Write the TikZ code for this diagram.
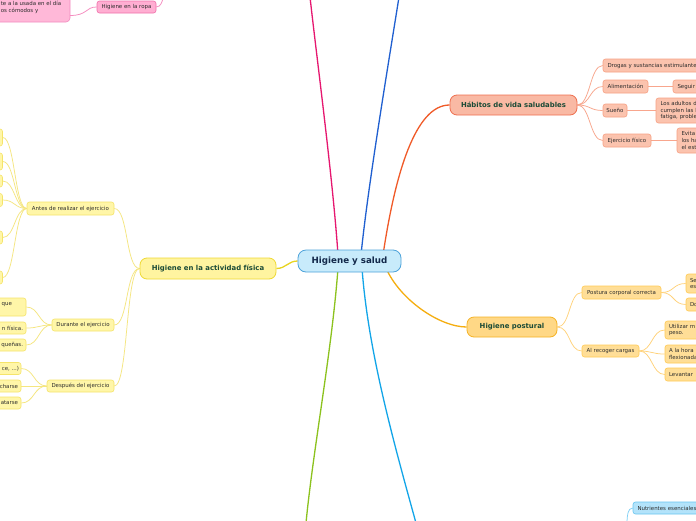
\documentclass[tikz,border=0pt]{standalone}
\usepackage{fontspec}
\setmainfont{DejaVu Sans}
\usetikzlibrary{backgrounds}
\definecolor{txt}{HTML}{2C2C2C}
\definecolor{maintxt}{HTML}{1A4A36}
\definecolor{centtxt}{HTML}{13294B}
\definecolor{centF}{HTML}{C8EBFB}
\definecolor{centD}{HTML}{4DA3DA}
\definecolor{pinkL}{HTML}{E6176F}
\definecolor{blueL}{HTML}{1F5FD0}
\definecolor{orangeL}{HTML}{F05A28}
\definecolor{yellowL}{HTML}{E8D420}
\definecolor{postL}{HTML}{F5AE10}
\definecolor{greenL}{HTML}{8CC21E}
\definecolor{lblueL}{HTML}{12A5E8}
\definecolor{habF}{HTML}{F9B9A4}
\definecolor{habD}{HTML}{EE6F4F}
\definecolor{habsF}{HTML}{FBC3AE}
\definecolor{habsD}{HTML}{F7A184}
\definecolor{habC}{HTML}{F8A68D}
\definecolor{postF}{HTML}{FFD886}
\definecolor{postD}{HTML}{F5B325}
\definecolor{postsF}{HTML}{FFDE97}
\definecolor{postsD}{HTML}{FFCB55}
\definecolor{postC}{HTML}{FFD27A}
\definecolor{actF}{HTML}{FFF4A0}
\definecolor{actD}{HTML}{EFD934}
\definecolor{actsF}{HTML}{FFF6A8}
\definecolor{actsD}{HTML}{F5E46A}
\definecolor{actC}{HTML}{F5E680}
\definecolor{ropaF}{HTML}{FFAED2}
\definecolor{ropaD}{HTML}{F070AA}
\definecolor{pinkbF}{HTML}{FFB8D8}
\definecolor{pinkbD}{HTML}{F28BBF}
\definecolor{pinkC}{HTML}{F58CBF}
\definecolor{nutF}{HTML}{B3E3FA}
\definecolor{nutD}{HTML}{69C6F0}
\definecolor{nutC}{HTML}{80D0F5}
\tikzset{
  small/.style={font=\fontsize{5.45}{6.6}\selectfont, text=txt, inner sep=0pt,
    rounded corners=2.5pt, line width=0.6pt},
  mainbox/.style={font=\bfseries\fontsize{6.9}{8}\selectfont, text=maintxt,
    inner sep=0pt, rounded corners=7pt, line width=0.8pt},
  hs/.style={small, fill=habsF, draw=habsD},
  ps/.style={small, fill=postsF, draw=postsD},
  as/.style={small, fill=actsF, draw=actsD},
  lft/.style={align=left, text width=#1},
  rgt/.style={align=right, text width=#1},
  mainln/.style={line width=1.3pt},
  subln/.style={line width=0.75pt}
}
\begin{document}
\begin{tikzpicture}[x=1pt,y=-1pt]
\useasboundingbox (0,0) rectangle (696,520);

% central
\node[font=\bfseries\fontsize{8.7}{10}\selectfont, text=centtxt, inner sep=0pt,
  rounded corners=8pt, line width=0.8pt, fill=centF, draw=centD,
  minimum width=103, minimum height=22] (central) at (349.5,261) {Higiene y salud};

% Habitos
\node[mainbox, fill=habF, draw=habD, minimum width=127, minimum height=20] (hab) at (513.5,105) {Hábitos de vida saludables};
\node[hs, minimum width=117, minimum height=13, lft=108] (drog) at (661.5,65.5) {Drogas y sustancias estimulantes};
\node[hs, minimum width=45, minimum height=13] (alim) at (625.5,86.5) {Alimentación};
\node[hs, minimum width=47, minimum height=13, lft=38] (seg) at (696.5,86.5) {Seguir};
\node[hs, minimum width=24, minimum height=13] (sueno) at (615,110.5) {Sueño};
\node[hs, minimum width=74, minimum height=25, lft=65] (adult) at (693,110.5) {Los adultos d\\cumplen las l\\fatiga, proble};
\node[hs, minimum width=48, minimum height=13] (ejer) at (627,140.5) {Ejercicio físico};
\node[hs, minimum width=53, minimum height=25, lft=44] (evita) at (703.5,140.5) {Evita\\los ha\\el est};

% Higiene postural
\node[mainbox, fill=postF, draw=postD, minimum width=90, minimum height=20] (post) at (512,327) {Higiene postural};
\node[ps, minimum width=79, minimum height=13] (postura) at (621.5,292.5) {Postura corporal correcta};
\node[ps, minimum width=44, minimum height=19, lft=36] (se) at (708,283.5) {Se\\es};
\node[ps, minimum width=44, minimum height=13, lft=36] (do) at (708,304.5) {Do};
\node[ps, minimum width=57, minimum height=12] (recoger) at (610.5,351) {Al recoger cargas};
\node[ps, minimum width=65, minimum height=18, lft=57] (util) at (697.5,330) {Utilizar m\\peso.};
\node[ps, minimum width=65, minimum height=18, lft=57] (ala) at (697.5,354) {A la hora\\flexionada};
\node[ps, minimum width=65, minimum height=13, lft=57] (lev) at (697.5,374.5) {Levantar};

% Actividad fisica
\node[mainbox, fill=actF, draw=actD, minimum width=136, minimum height=21] (act) at (208,268.5) {Higiene en la actividad física};
\node[as, minimum width=87, minimum height=13] (antes) at (70.5,208.5) {Antes de realizar el ejercicio};
\node[as, minimum width=62, minimum height=12] (durante) at (83,325) {Durante el ejercicio};
\node[as, minimum width=67, minimum height=12] (despues) at (80.5,386) {Después del ejercicio};
% children of Antes (cropped)
\node[as, minimum width=62, minimum height=17] (a1) at (-28.5,137.5) {};
\node[as, minimum width=62, minimum height=17] (a2) at (-28.5,161.5) {};
\node[as, minimum width=62, minimum height=12] (a3) at (-28.5,181) {};
\node[as, minimum width=62, minimum height=13] (a4) at (-28.5,200) {};
\node[as, minimum width=62, minimum height=13] (a5) at (-28.5,237.5) {};
\node[as, minimum width=62, minimum height=13] (a6) at (-28.5,277.5) {};
% children of Durante
\node[as, minimum width=80, minimum height=18, rgt=74] (d1) at (-14,307) {que\rule{11pt}{0pt}\\\mbox{}};
\node[as, minimum width=80, minimum height=12, rgt=74] (d2) at (-14,328) {n física.};
\node[as, minimum width=80, minimum height=12, rgt=74] (d3) at (-14,345) {queñas.};
% children of Despues
\node[as, minimum width=80, minimum height=12, rgt=76] (p1) at (-19,368.5) {ce, ...)};
\node[as, minimum width=80, minimum height=12, rgt=74] (p2) at (-19,386) {charse};
\node[as, minimum width=80, minimum height=12, rgt=74] (p3) at (-19,403) {atarse};

% pink (top left)
\node[small, fill=pinkbF, draw=pinkbD, rounded corners=4pt, minimum width=100, minimum height=42] (pinkbig) at (20,1) {};
\node[small, anchor=north west, align=left] (pinktxt) at (0.5,1.2) {te a la usada en el día\\os cómodos y};
\node[small, fill=ropaF, draw=ropaD, minimum width=59, minimum height=12] (ropa) at (126.5,7) {Higiene en la ropa};
\coordinate (pinkA) at (70,15.5);
\coordinate (ropaUp) at (164,-4);

% light blue (bottom right)
\node[small, fill=nutF, draw=nutD, minimum width=97, minimum height=12, lft=88] (nutri) at (681.5,508) {Nutrientes esenciales};
\coordinate (nutDown) at (627,523);

% main line end points
\coordinate (pinkTop) at (310,-3);
\coordinate (blueTop) at (399,-3);
\coordinate (greenBot) at (306,523);
\coordinate (lblueBot) at (416,523);

\begin{pgfonlayer}{background}
\fill[white] (0,0) rectangle (696,520);
% main branches
\draw[mainln, pinkL] (central.center) ++(-11.5,-6) .. controls (333,180) and (317,60) .. (pinkTop);
\draw[mainln, blueL] (central.center) ++(11.5,-6) .. controls (368,185) and (389,60) .. (blueTop);
\draw[mainln, orangeL] (central.center) ++(33.5,-6) .. controls (395,175) and (415,105) .. (hab.west);
\draw[mainln, yellowL] (central.west) .. controls (288,261) and (286,268.5) .. (act.east);
\draw[mainln, postL] (central.center) ++(36.5,7) .. controls (400,300) and (440,327) .. (post.west);
\draw[mainln, greenL] (central.center) ++(-11.5,7) .. controls (332,350) and (313,450) .. (greenBot);
\draw[mainln, lblueL] (central.center) ++(12.5,7) .. controls (368,350) and (393,440) .. (lblueBot);
% habitos
\foreach \c in {drog,alim,sueno,ejer}
  \draw[subln, habC] (hab.east) .. controls +(13,0) and +(-13,0) .. (\c.west);
\draw[subln, habC] (alim.east) -- (seg.west);
\draw[subln, habC] (sueno.east) -- (adult.west);
\draw[subln, habC] (ejer.east) -- (evita.west);
% postural
\foreach \c in {postura,recoger}
  \draw[subln, postC] (post.east) .. controls +(13,0) and +(-13,0) .. (\c.west);
\foreach \c in {se,do}
  \draw[subln, postC] (postura.east) .. controls +(13,0) and +(-13,0) .. (\c.west);
\foreach \c in {util,ala,lev}
  \draw[subln, postC] (recoger.east) .. controls +(13,0) and +(-13,0) .. (\c.west);
% actividad
\foreach \c in {antes,durante,despues}
  \draw[subln, actC] (act.west) .. controls +(-14,0) and +(14,0) .. (\c.east);
\foreach \c in {a1,a2,a3,a4,a5,a6}
  \draw[subln, actC] (antes.west) .. controls +(-12,0) and +(12,0) .. (\c.east);
\foreach \c in {d1,d2,d3}
  \draw[subln, actC] (durante.west) .. controls +(-13,0) and +(13,0) .. (\c.east);
\foreach \c in {p1,p2,p3}
  \draw[subln, actC] (despues.west) .. controls +(-13,0) and +(13,0) .. (\c.east);
% pink
\draw[subln, pinkC] (pinkA) .. controls (88,15.5) and (85,7) .. (ropa.west);
\draw[subln, pinkC] (ropa.east) .. controls +(5,0) and +(-2,5) .. (ropaUp);
% nutrientes
\draw[subln, nutC] (nutri.west) .. controls +(-5,0) and +(0,-7) .. (nutDown);
\end{pgfonlayer}
\end{tikzpicture}
\end{document}
